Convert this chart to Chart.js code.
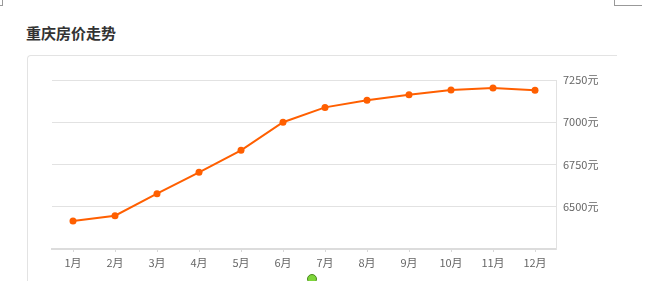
<!DOCTYPE html>
<html>
<head>
<meta charset="utf-8">
<script src="https://cdn.jsdelivr.net/npm/chart.js@4"></script>
<style>
  html, body { margin: 0; padding: 0; background: #fff; overflow: hidden; }
  body { width: 652px; height: 281px; position: relative; }
  .title {
    position: absolute; left: 26px; top: 22px;
    font: bold 15px "Noto Sans CJK SC", sans-serif; color: #333;
  }
  .panel {
    position: absolute; left: 27px; top: 55px; width: 589px; height: 240px;
    border-top: 1px solid #e3e3e3; border-left: 1px solid #e3e3e3;
    border-top-left-radius: 4px;
  }
  .corner-l { position: absolute; left: 0; top: 0; width: 2px; height: 5px;
    border-right: 1px solid #999; border-bottom: 1px solid #999; }
  .corner-r { position: absolute; left: 614px; top: 0; width: 27px; height: 5px;
    border-left: 1px solid #999; border-bottom: 1px solid #999; }
  .dot { position: absolute; left: 307px; top: 274px; width: 8px; height: 8px;
    border-radius: 50%; background: #7ed63a; border: 1px solid #4a8a1e; }
  #wrap { position: absolute; left: 0; top: 0; width: 652px; height: 281px; }
</style>
</head>
<body>
<div class="corner-l"></div>
<div class="corner-r"></div>
<div class="title">重庆房价走势</div>
<div class="panel"></div>
<div id="wrap"><canvas id="priceChart"></canvas></div>
<div class="dot"></div>
<script>
// ======================= DATA =======================
const months = ["1月", "2月", "3月", "4月", "5月", "6月", "7月", "8月", "9月", "10月", "11月", "12月"];
const prices = [6416, 6447, 6577, 6704, 6834, 7000, 7088, 7130, 7163, 7191, 7203, 7189];
const yTicks = [6250, 6500, 6750, 7000, 7250];

// ======================= LINE CHART (Price) =======================
new Chart(document.getElementById("priceChart"), {
  type: "line",
  data: {
    labels: months,
    datasets: [
      {
        data: prices,
        borderColor: "#ff5f00",
        backgroundColor: "#ff5f00",
        borderWidth: 2,
        pointRadius: 3.5,
        pointBorderWidth: 0,
        tension: 0,
      },
    ],
  },
  options: {
    responsive: true,
    maintainAspectRatio: false,
    animation: false,
    layout: {
      padding: { left: 52, top: 80, right: 0, bottom: 0 },
    },
    scales: {
      x: {
        offset: true,
        grid: {
          offset: false,
          drawOnChartArea: false,
          drawTicks: true,
          tickLength: 3,
          color: "#d8d8d8",
        },
        border: { color: "#dcdcdc", width: 2 },
        ticks: {
          color: "#666",
          padding: 4,
          maxRotation: 0,
          font: { size: 11, family: "'Noto Sans CJK SC', sans-serif" },
        },
        afterFit: (s) => { s.height = 32; },
      },
      y: {
        position: "right",
        min: 6250,
        max: 7250,
        afterBuildTicks: (s) => { s.ticks = yTicks.map((v) => ({ value: v })); },
        grid: { color: "#e2e2e2", drawTicks: false },
        border: { color: "#e2e2e2", width: 1 },
        ticks: {
          color: "#666",
          padding: 7,
          font: { size: 11, family: "'Noto Sans CJK SC', sans-serif" },
          callback: (v) => (v === 6250 ? "" : v + "元"),
        },
        afterFit: (s) => { s.width = 96; },
      },
    },
    plugins: {
      legend: { display: false },
      tooltip: { enabled: false },
    },
  },
});
</script>
</body>
</html>
